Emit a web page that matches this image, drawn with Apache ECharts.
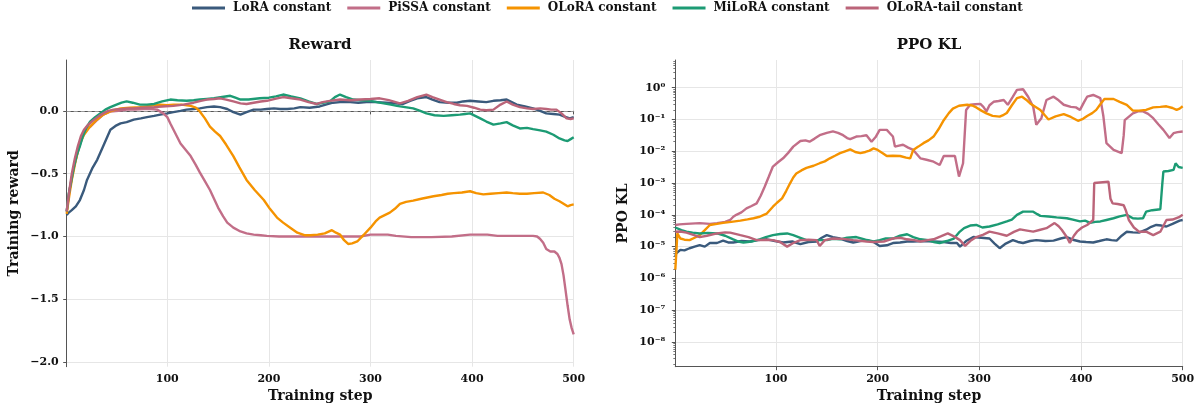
<!DOCTYPE html>
<html>
<head>
<meta charset="utf-8">
<script src="https://cdn.jsdelivr.net/npm/echarts@6/dist/echarts.min.js"></script>
<style>
html,body{margin:0;padding:0;background:#fff;}
#chart{width:1203px;height:406px;}
</style>
</head>
<body>
<div id="chart"></div>
<script>
// ---------- DATA ----------
const seriesNames = ['LoRA constant','PiSSA constant','OLoRA constant','MiLoRA constant','OLoRA-tail constant'];
const seriesColors = ['#3a5a7c','#c26e88','#f59300','#1c9b74','#bb6479'];
const xTicks = [100,200,300,400,500];
const rewardTicks = [-2.0,-1.5,-1.0,-0.5,0.0];
const klTicks = [1e-8,1e-7,1e-6,1e-5,1e-4,1e-3,1e-2,1e-1,1];

// Reward panel: [step, smoothed training reward]
const loraReward = [[1,-0.83],[3,-0.81],[6,-0.79],[10,-0.76],[14,-0.71],[18,-0.63],[21,-0.55],[26,-0.46],[31,-0.39],[37,-0.28],[44,-0.15],[49,-0.12],[54,-0.10],[60,-0.09],[67,-0.07],[74,-0.06],[80,-0.05],[87,-0.04],[93,-0.03],[100,-0.02],[106,-0.01],[113,0.0],[119,0.01],[126,0.015],[132,0.02],[139,0.03],[146,0.035],[152,0.03],[159,0.015],[165,-0.01],[172,-0.03],[178,-0.01],[185,0.01],[192,0.01],[198,0.015],[205,0.02],[211,0.015],[218,0.015],[225,0.02],[231,0.03],[240,0.025],[250,0.035],[256,0.05],[263,0.065],[270,0.07],[280,0.07],[288,0.065],[296,0.07],[306,0.07],[316,0.065],[324,0.06],[332,0.055],[339,0.08],[346,0.10],[355,0.11],[361,0.09],[368,0.07],[377,0.065],[385,0.065],[391,0.075],[398,0.08],[406,0.075],[414,0.07],[421,0.08],[428,0.085],[434,0.09],[439,0.07],[444,0.05],[452,0.035],[460,0.02],[467,0.0],[473,-0.02],[480,-0.025],[486,-0.03],[491,-0.045],[496,-0.06],[500,-0.05]];
const pissaReward = [[1,-0.80],[4,-0.62],[8,-0.45],[12,-0.32],[16,-0.22],[20,-0.15],[25,-0.12],[30,-0.08],[37,-0.03],[44,-0.005],[52,0.0],[60,0.01],[68,0.01],[77,0.015],[84,0.015],[90,0.01],[96,-0.02],[100,-0.05],[103,-0.10],[108,-0.18],[113,-0.26],[118,-0.31],[123,-0.36],[128,-0.43],[132,-0.49],[137,-0.56],[142,-0.63],[146,-0.70],[150,-0.77],[155,-0.84],[159,-0.89],[165,-0.93],[172,-0.96],[178,-0.975],[185,-0.985],[192,-0.99],[198,-0.995],[210,-1.0],[250,-1.0],[290,-1.0],[300,-0.985],[310,-0.985],[317,-0.985],[325,-0.995],[340,-1.005],[360,-1.005],[380,-1.0],[398,-0.985],[415,-0.985],[425,-0.995],[440,-0.995],[460,-0.995],[464,-1.0],[467,-1.02],[470,-1.05],[473,-1.10],[477,-1.12],[481,-1.12],[484,-1.14],[486,-1.17],[488,-1.22],[490,-1.31],[492,-1.43],[494,-1.55],[496,-1.66],[498,-1.73],[500,-1.78]];
const oloraReward = [[1,-0.82],[2,-0.76],[4,-0.65],[6,-0.55],[10,-0.39],[14,-0.26],[18,-0.19],[24,-0.125],[30,-0.075],[37,-0.03],[45,0.0],[54,0.02],[63,0.025],[73,0.03],[83,0.04],[93,0.05],[100,0.045],[106,0.05],[114,0.05],[123,0.04],[128,0.025],[132,-0.005],[137,-0.06],[142,-0.125],[147,-0.165],[152,-0.2],[158,-0.27],[165,-0.36],[171,-0.45],[178,-0.55],[186,-0.63],[195,-0.71],[201,-0.78],[208,-0.85],[214,-0.89],[221,-0.93],[228,-0.97],[235,-0.99],[241,-0.99],[248,-0.985],[255,-0.975],[262,-0.95],[266,-0.97],[270,-0.985],[274,-1.03],[278,-1.06],[282,-1.055],[287,-1.04],[293,-0.99],[300,-0.93],[305,-0.88],[309,-0.85],[314,-0.83],[319,-0.81],[324,-0.78],[329,-0.74],[335,-0.725],[342,-0.715],[350,-0.70],[356,-0.69],[362,-0.68],[370,-0.67],[376,-0.66],[382,-0.655],[390,-0.65],[398,-0.64],[404,-0.655],[411,-0.665],[418,-0.66],[426,-0.655],[434,-0.65],[440,-0.655],[447,-0.66],[454,-0.66],[461,-0.655],[470,-0.65],[476,-0.67],[481,-0.70],[486,-0.72],[490,-0.74],[494,-0.76],[497,-0.75],[500,-0.745]];
const miloraReward = [[1,-0.80],[3,-0.66],[5,-0.58],[8,-0.45],[11,-0.35],[14,-0.28],[17,-0.2],[20,-0.14],[24,-0.085],[29,-0.05],[34,-0.02],[39,0.01],[44,0.03],[50,0.05],[55,0.065],[60,0.075],[66,0.065],[73,0.05],[80,0.05],[87,0.055],[95,0.075],[103,0.09],[110,0.085],[119,0.08],[126,0.085],[132,0.09],[139,0.095],[146,0.10],[154,0.11],[162,0.12],[167,0.105],[172,0.09],[180,0.09],[191,0.10],[200,0.105],[207,0.115],[214,0.13],[222,0.115],[231,0.10],[239,0.075],[247,0.055],[253,0.065],[260,0.075],[265,0.11],[270,0.13],[276,0.11],[283,0.09],[291,0.085],[300,0.08],[306,0.07],[313,0.06],[320,0.05],[326,0.04],[334,0.03],[342,0.02],[349,0.0],[355,-0.02],[363,-0.035],[372,-0.04],[380,-0.035],[388,-0.03],[393,-0.025],[398,-0.02],[403,-0.04],[408,-0.06],[414,-0.085],[421,-0.11],[428,-0.10],[434,-0.09],[440,-0.115],[447,-0.14],[454,-0.135],[460,-0.145],[467,-0.155],[473,-0.165],[480,-0.19],[486,-0.22],[491,-0.235],[494,-0.24],[497,-0.225],[500,-0.21]];
const oloraTailReward = [[1,-0.80],[3,-0.67],[6,-0.50],[9,-0.38],[12,-0.28],[15,-0.20],[18,-0.15],[21,-0.12],[25,-0.09],[28,-0.07],[33,-0.04],[37,-0.02],[42,0.0],[47,0.01],[55,0.015],[62,0.02],[67,0.02],[75,0.025],[87,0.03],[95,0.035],[106,0.04],[116,0.05],[126,0.065],[133,0.08],[139,0.09],[146,0.095],[152,0.10],[158,0.09],[165,0.075],[172,0.06],[178,0.055],[185,0.065],[192,0.075],[198,0.08],[206,0.095],[214,0.11],[222,0.10],[231,0.09],[239,0.07],[247,0.055],[253,0.07],[260,0.08],[270,0.09],[280,0.085],[290,0.09],[300,0.095],[309,0.10],[318,0.085],[329,0.06],[337,0.08],[346,0.11],[355,0.13],[361,0.11],[368,0.09],[375,0.07],[382,0.055],[388,0.045],[395,0.04],[402,0.025],[408,0.01],[414,0.005],[421,0.01],[428,0.05],[434,0.075],[440,0.05],[447,0.03],[454,0.02],[460,0.015],[467,0.02],[473,0.015],[478,0.01],[483,0.01],[488,-0.02],[493,-0.06],[497,-0.065],[500,-0.06]];

// PPO KL panel: [step, smoothed KL]
const loraKL = [[1,5.0e-6],[2,6.2e-6],[6,7.9e-6],[10,7.6e-6],[15,8.9e-6],[20,1.0e-5],[25,1.12e-5],[30,1.0e-5],[35,1.3e-5],[42,1.3e-5],[48,1.55e-5],[53,1.35e-5],[58,1.35e-5],[66,1.5e-5],[74,1.45e-5],[82,1.6e-5],[91,1.7e-5],[99,1.5e-5],[107,1.35e-5],[116,1.45e-5],[124,1.2e-5],[132,1.4e-5],[140,1.45e-5],[145,1.9e-5],[150,2.3e-5],[156,2.0e-5],[163,1.8e-5],[170,1.5e-5],[176,1.35e-5],[183,1.5e-5],[189,1.6e-5],[196,1.4e-5],[202,1.05e-5],[209,1.1e-5],[215,1.3e-5],[222,1.35e-5],[229,1.45e-5],[235,1.45e-5],[245,1.5e-5],[255,1.45e-5],[265,1.4e-5],[272,1.3e-5],[278,1.3e-5],[281,1.0e-5],[287,1.5e-5],[294,2.0e-5],[302,1.9e-5],[310,1.8e-5],[315,1.25e-5],[320,8.9e-6],[326,1.25e-5],[333,1.6e-5],[338,1.4e-5],[343,1.3e-5],[350,1.5e-5],[356,1.6e-5],[365,1.5e-5],[373,1.55e-5],[380,1.8e-5],[386,2.0e-5],[392,1.65e-5],[399,1.45e-5],[405,1.4e-5],[412,1.35e-5],[418,1.5e-5],[425,1.7e-5],[430,1.6e-5],[435,1.55e-5],[440,2.2e-5],[445,2.95e-5],[451,2.8e-5],[457,2.75e-5],[464,3.4e-5],[469,4.2e-5],[474,4.8e-5],[479,4.6e-5],[484,4.3e-5],[490,5.2e-5],[497,6.6e-5],[500,6.9e-5]];
const pissaKL = [[1,4.8e-5],[5,5.0e-5],[12,5.2e-5],[25,5.5e-5],[35,5.2e-5],[42,5.5e-5],[50,6.0e-5],[55,6.9e-5],[58,8.7e-5],[61,1.0e-4],[66,1.2e-4],[71,1.6e-4],[76,1.9e-4],[81,2.3e-4],[85,4.0e-4],[89,7.8e-4],[93,1.6e-3],[97,3.3e-3],[102,4.5e-3],[107,6.0e-3],[112,8.9e-3],[117,1.4e-2],[124,2.1e-2],[129,2.2e-2],[133,2.0e-2],[138,2.5e-2],[143,3.2e-2],[150,3.8e-2],[156,4.2e-2],[161,3.8e-2],[166,3.2e-2],[170,2.6e-2],[173,2.4e-2],[179,2.9e-2],[184,3.0e-2],[189,3.2e-2],[194,2.0e-2],[198,2.8e-2],[202,4.7e-2],[209,4.7e-2],[212,3.7e-2],[215,2.9e-2],[217,1.4e-2],[221,1.5e-2],[225,1.6e-2],[230,1.3e-2],[235,1.1e-2],[242,6.0e-3],[248,5.4e-3],[255,4.7e-3],[261,3.7e-3],[265,7.1e-3],[276,7.1e-3],[280,1.6e-3],[284,4.2e-3],[287,0.2],[291,0.29],[296,0.30],[301,0.31],[304,0.25],[307,0.18],[310,0.28],[314,0.36],[319,0.38],[324,0.41],[328,0.29],[333,0.52],[337,0.85],[343,0.89],[348,0.52],[353,0.25],[356,0.068],[361,0.11],[366,0.41],[373,0.52],[378,0.40],[383,0.29],[390,0.25],[395,0.24],[399,0.20],[403,0.35],[406,0.52],[412,0.59],[419,0.47],[422,0.126],[425,0.018],[432,0.011],[440,8.7e-3],[442,0.032],[443,0.095],[451,0.155],[456,0.18],[461,0.18],[466,0.15],[471,0.11],[476,0.071],[481,0.047],[487,0.026],[491,0.037],[495,0.040],[500,0.042]];
const oloraKL = [[1,1.9e-6],[2,6.3e-6],[3,2.6e-5],[6,1.8e-5],[10,1.65e-5],[15,1.6e-5],[20,1.9e-5],[25,2.3e-5],[30,3.3e-5],[35,4.8e-5],[42,5.2e-5],[48,5.6e-5],[56,6.0e-5],[65,6.6e-5],[72,7.2e-5],[78,7.8e-5],[84,8.7e-5],[88,1.0e-4],[91,1.1e-4],[97,1.8e-4],[101,2.4e-4],[106,3.3e-4],[110,5.6e-4],[114,1.0e-3],[117,1.5e-3],[120,2.0e-3],[125,2.5e-3],[130,3.0e-3],[137,3.5e-3],[143,4.2e-3],[148,4.8e-3],[153,6.0e-3],[158,7.2e-3],[163,8.7e-3],[168,1.0e-2],[173,1.15e-2],[178,9.5e-3],[183,8.7e-3],[188,9.5e-3],[192,1.05e-2],[196,1.23e-2],[200,1.1e-2],[205,8.7e-3],[209,7.1e-3],[215,7.2e-3],[222,7.1e-3],[228,6.3e-3],[232,6.0e-3],[235,1.1e-2],[240,1.4e-2],[245,1.8e-2],[250,2.2e-2],[255,2.9e-2],[260,5.0e-2],[265,9.5e-2],[270,0.158],[274,0.22],[280,0.27],[288,0.29],[293,0.275],[297,0.24],[302,0.19],[307,0.155],[313,0.13],[320,0.123],[324,0.14],[327,0.16],[332,0.28],[337,0.47],[342,0.52],[346,0.42],[350,0.32],[355,0.25],[360,0.20],[364,0.14],[368,0.10],[375,0.126],[383,0.148],[390,0.12],[397,0.091],[402,0.105],[406,0.129],[411,0.158],[415,0.20],[419,0.30],[423,0.44],[432,0.44],[438,0.36],[445,0.29],[451,0.19],[457,0.19],[464,0.20],[471,0.24],[478,0.25],[484,0.26],[490,0.23],[494,0.20],[497,0.22],[500,0.26]];
const miloraKL = [[1,4.0e-5],[2,3.8e-5],[7,3.3e-5],[12,2.95e-5],[18,2.75e-5],[25,2.6e-5],[33,2.7e-5],[42,2.6e-5],[50,2.2e-5],[58,1.7e-5],[63,1.45e-5],[68,1.35e-5],[76,1.45e-5],[84,1.7e-5],[90,2.0e-5],[97,2.3e-5],[104,2.5e-5],[111,2.6e-5],[117,2.3e-5],[124,1.9e-5],[130,1.6e-5],[140,1.6e-5],[150,1.6e-5],[156,1.75e-5],[163,1.7e-5],[170,1.9e-5],[179,2.0e-5],[188,1.65e-5],[196,1.45e-5],[202,1.6e-5],[208,1.8e-5],[215,1.8e-5],[222,2.2e-5],[229,2.45e-5],[235,2.0e-5],[242,1.7e-5],[250,1.6e-5],[255,1.4e-5],[261,1.3e-5],[268,1.5e-5],[275,1.8e-5],[280,2.8e-5],[285,3.8e-5],[291,4.6e-5],[297,4.8e-5],[303,4.0e-5],[310,4.3e-5],[318,5.0e-5],[327,6.2e-5],[332,7.1e-5],[337,1.0e-4],[343,1.26e-4],[353,1.26e-4],[357,1.05e-4],[360,9.3e-5],[368,8.9e-5],[376,8.3e-5],[386,7.8e-5],[392,7.1e-5],[399,6.2e-5],[404,6.6e-5],[409,5.6e-5],[414,6.0e-5],[419,6.2e-5],[425,6.9e-5],[432,7.8e-5],[438,8.9e-5],[445,1.0e-4],[451,7.8e-5],[456,7.6e-5],[461,7.8e-5],[464,1.26e-4],[470,1.4e-4],[478,1.5e-4],[480,1.0e-3],[481,2.3e-3],[486,2.4e-3],[491,2.6e-3],[493,4.2e-3],[496,3.2e-3],[500,3.0e-3]];
const oloraTailKL = [[1,2.95e-5],[6,3.0e-5],[12,2.75e-5],[18,2.4e-5],[25,2.0e-5],[32,2.2e-5],[42,2.6e-5],[50,2.8e-5],[55,2.75e-5],[65,2.3e-5],[73,2.0e-5],[81,1.6e-5],[90,1.65e-5],[97,1.6e-5],[104,1.4e-5],[111,1.0e-5],[117,1.3e-5],[124,1.6e-5],[132,1.65e-5],[140,1.6e-5],[143,1.05e-5],[148,1.6e-5],[156,1.8e-5],[166,1.75e-5],[176,1.6e-5],[189,1.45e-5],[196,1.4e-5],[206,1.45e-5],[215,1.8e-5],[222,1.9e-5],[229,1.7e-5],[236,1.6e-5],[242,1.45e-5],[249,1.6e-5],[255,1.7e-5],[262,2.1e-5],[269,2.6e-5],[275,2.1e-5],[281,1.6e-5],[286,1.05e-5],[291,1.5e-5],[297,2.0e-5],[304,2.4e-5],[310,2.95e-5],[318,2.6e-5],[327,2.2e-5],[334,2.9e-5],[340,3.5e-5],[347,3.2e-5],[353,2.95e-5],[360,3.4e-5],[366,3.8e-5],[374,5.5e-5],[378,4.4e-5],[381,3.4e-5],[386,2.0e-5],[389,1.3e-5],[393,2.2e-5],[396,2.95e-5],[401,4.0e-5],[406,4.8e-5],[412,6.9e-5],[413,1.0e-3],[414,1.1e-3],[427,1.1e-3],[429,3.2e-4],[431,2.3e-4],[436,2.2e-4],[442,2.0e-4],[444,1.4e-4],[447,6.9e-5],[452,4.0e-5],[457,2.95e-5],[464,2.95e-5],[471,2.3e-5],[478,2.95e-5],[484,6.9e-5],[490,7.1e-5],[497,8.7e-5],[500,1.0e-4]];

const rewardSeries = [loraReward, pissaReward, oloraReward, miloraReward, oloraTailReward];
const klSeries = [loraKL, pissaKL, oloraKL, miloraKL, oloraTailKL];

// ---------- CHART ----------
const FONT = "'DejaVu Serif', serif";
const AXIS_COLOR = '#555';
const GRID_COLOR = '#e6e6e6';
const SUP = {'-':'\u207B','0':'\u2070','1':'\u00B9','2':'\u00B2','3':'\u00B3','4':'\u2074','5':'\u2075','6':'\u2076','7':'\u2077','8':'\u2078','9':'\u2079'};
function logLabel(v) {
  const e = Math.round(Math.log10(v));
  return '10' + String(e).split('').map(c => SUP[c]).join('');
}
const minorKL = [];
for (let n = -9; n <= 0; n++) for (let k = 2; k <= 9; k++) {
  const v = k * Math.pow(10, n);
  if (v > 1.67e-9 && v < 7.4) minorKL.push(v);
}

const nameStyle = {fontFamily: FONT, fontWeight: 'bold', fontSize: 14, color: '#111'};
const baseX = (gridIndex) => ({
  type: 'value', gridIndex, min: 1, max: 500,
  name: 'Training step', nameLocation: 'middle', nameGap: 22,
  nameTextStyle: nameStyle,
  axisLine: {show: true, lineStyle: {color: AXIS_COLOR, width: 1}},
  axisTick: {show: true, length: 3.5, lineStyle: {color: AXIS_COLOR}, customValues: xTicks},
  axisLabel: {fontFamily: FONT, fontWeight: 'bold', fontSize: 11, color: '#111', margin: 7, customValues: xTicks},
  splitLine: {show: true, lineStyle: {color: GRID_COLOR, width: 1}}
});

const option = {
  animation: false,
  backgroundColor: '#fff',
  color: seriesColors,
  title: [
    {text: 'Reward', left: 320, top: 38, textAlign: 'center', padding: 0,
     textStyle: {fontFamily: FONT, fontWeight: 'bold', fontSize: 15, color: '#111'}},
    {text: 'PPO KL', left: 929, top: 38, textAlign: 'center', padding: 0,
     textStyle: {fontFamily: FONT, fontWeight: 'bold', fontSize: 15, color: '#111'}}
  ],
  legend: {
    data: seriesNames, top: 2, left: 192, itemWidth: 33, itemHeight: 3, itemGap: 16, icon: 'rect',
    padding: 0,
    textStyle: {fontFamily: FONT, fontWeight: 'bold', fontSize: 12, color: '#111', padding: [0, 0, 0, 3]}
  },
  grid: [
    {left: 66.7, top: 60, width: 507, height: 306.7, outerBoundsMode: 'none', containLabel: false},
    {left: 675.3, top: 60, width: 507.4, height: 306.7, outerBoundsMode: 'none', containLabel: false}
  ],
  xAxis: [baseX(0), baseX(1)],
  yAxis: [
    {type: 'value', gridIndex: 0, min: -2.037, max: 0.405,
     name: 'Training reward', nameLocation: 'middle', nameGap: 45,
     nameTextStyle: nameStyle,
     axisLine: {show: true, lineStyle: {color: AXIS_COLOR, width: 1}},
     axisTick: {show: true, length: 3.5, lineStyle: {color: AXIS_COLOR}, customValues: rewardTicks},
     axisLabel: {fontFamily: FONT, fontWeight: 'bold', fontSize: 11, color: '#111', margin: 8, customValues: rewardTicks,
       formatter: v => v.toFixed(1).replace('-', '\u2212')},
     splitLine: {show: true, lineStyle: {color: GRID_COLOR, width: 1}}},
    {type: 'log', logBase: 10, gridIndex: 1, min: 1.67e-9, max: 7.43,
     name: 'PPO KL', nameLocation: 'middle', nameGap: 45,
     nameTextStyle: nameStyle,
     axisLine: {show: true, lineStyle: {color: AXIS_COLOR, width: 1}},
     axisTick: {show: true, length: 3.5, lineStyle: {color: AXIS_COLOR}, customValues: klTicks},
     axisLabel: {fontFamily: FONT, fontWeight: 'bold', fontSize: 11, color: '#111', margin: 10, customValues: klTicks,
       formatter: logLabel},
     splitLine: {show: true, lineStyle: {color: GRID_COLOR, width: 1}}},
    {type: 'log', logBase: 10, gridIndex: 1, min: 1.67e-9, max: 7.43, position: 'left',
     axisLine: {show: false},
     axisTick: {show: true, length: 2, lineStyle: {color: AXIS_COLOR, width: 0.8}, customValues: minorKL},
     axisLabel: {show: false, customValues: minorKL},
     splitLine: {show: false}}
  ],
  series: []
};

seriesNames.forEach((name, i) => {
  const s = {
    name, type: 'line', xAxisIndex: 0, yAxisIndex: 0, data: rewardSeries[i],
    showSymbol: false, symbol: 'none', lineStyle: {width: 2.4, color: seriesColors[i]},
    itemStyle: {color: seriesColors[i]}, z: 3 + i
  };
  if (i === 0) {
    s.markLine = {silent: true, symbol: 'none', label: {show: false},
      lineStyle: {color: '#9a9a9a', type: [4, 3], width: 1}, data: [{yAxis: 0}], z: 1};
  }
  option.series.push(s);
});
seriesNames.forEach((name, i) => {
  option.series.push({
    name, type: 'line', xAxisIndex: 1, yAxisIndex: 1, data: klSeries[i],
    showSymbol: false, symbol: 'none', lineStyle: {width: 2.4, color: seriesColors[i]},
    itemStyle: {color: seriesColors[i]}, z: 3 + i
  });
});

const chart = echarts.init(document.getElementById('chart'), null, {renderer: 'canvas'});
chart.setOption(option);
</script>
</body>
</html>
